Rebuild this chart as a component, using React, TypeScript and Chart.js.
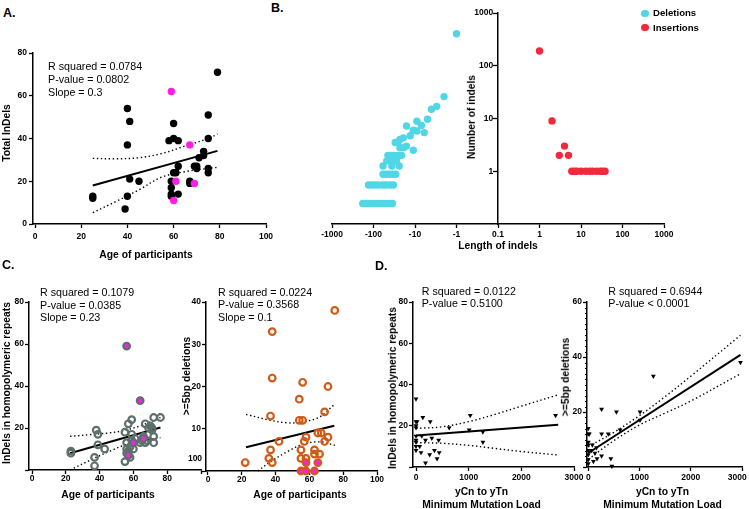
import React, { useEffect, useRef } from "react";
import { Chart, registerables } from "chart.js";
Chart.register(...registerables);

const FONT = "'Liberation Sans', Arial, Helvetica, sans-serif";
const GRAY = "#5d6f6c";
const ORANGE = "#cf5b17";
const MAG = "#ff1ee8";
const CYAN = "#4fd7e6";
const RED = "#f4283c";

// ---------- Panel A ----------
const ageA = [25, 25, 40, 41, 40, 41, 45, 40, 39, 58, 60, 62, 60, 59, 59, 60, 61, 62, 59, 59, 62, 67, 67, 69, 70, 70, 71, 73, 73, 75, 75, 75, 75, 79];
const indelA = [13, 12, 54, 48, 37, 21, 20, 13, 7, 39, 47, 39, 40, 17, 20, 24, 24, 27, 14, 13, 14, 20, 19, 27, 27, 26, 31, 34, 32, 51, 40, 26, 24, 71];
const ageAf = [59, 67, 61, 69, 60];
const indelAf = [62, 37, 20, 19, 11];
const fitAx = [25, 79];
const fitAy = [18, 34.2];
const bandAx = [25, 35, 45, 55, 65, 75, 79];
const bandAup = [30.7, 30.5, 31, 33, 36.5, 40, 42];
const bandAlo = [5.3, 10.5, 16, 22, 24.5, 26, 26.5];

// ---------- Panel B ----------
const delLen = [-1, -2, -3, -4, -5, -9, -7, -16, -11, -13, -9, -6, -19, -23, -26, -30, -16, -19, -23, -11,
  -45, -38, -33, -28, -24, -21, -48, -40, -33, -28, -59, -36, -24, -59, -50, -42, -35, -29,
  -132, -110, -90, -75, -60, -50, -40, -33, -182, -150, -125, -105, -88, -72, -60, -50, -42, -35];
const delCnt = [405, 26, 17, 15, 9.7, 8.9, 7.4, 7.2, 6, 4.7, 5.8, 5.4, 4.3, 4, 3.5, 3.5, 3, 2.8, 2.8, 2.5,
  2, 2, 2, 2, 2, 2, 1.57, 1.57, 1.57, 1.57, 1.26, 1.26, 1.26, 0.88, 0.88, 0.88, 0.88, 0.88,
  0.55, 0.55, 0.55, 0.55, 0.55, 0.55, 0.55, 0.55, 0.245, 0.245, 0.245, 0.245, 0.245, 0.245, 0.245, 0.245, 0.245, 0.245];
const insLen = [1, 2, 3, 4, 5, 6, 7, 8, 10, 13, 16, 19, 24, 29, 33, 38];
const insCnt = [190, 9, 2, 3, 2, 1, 1, 1, 1, 1, 1, 1, 1, 1, 1, 1];
const lenTickLabels = ["-1000", "-100", "-10", "-1", "0.1", "1", "10", "100", "1000"];
const lenTickPos = [-4, -3, -2, -1, 0, 1, 2, 3, 4];
const cntTicks = [1, 10, 100, 1000];
// symmetric log position of an indel length on the axis
const lenPos = (v: number) => (v < 0 ? -1 - Math.log10(-v) : 1 + Math.log10(v));

// ---------- Panel C (left) ----------
const ageC1 = [23, 23, 37, 37, 38, 39, 39, 43, 55, 55, 56, 56, 56, 57, 57, 58, 58, 59, 59, 59, 60, 61, 64, 65, 66, 67, 67, 68, 69, 70, 71, 71, 72, 72, 72, 76];
const hpC1 = [9, 8, 2, 6, 19, 17, 12, 10, 4, 18, 13, 10, 8, 22, 9, 11, 6, 24, 17, 14, 10, 15, 13, 14, 16, 22, 13, 14, 20, 21, 19, 20, 16, 13, 25, 25];
const ageC1m = [56, 64, 60, 57, 66];
const hpC1m = [59, 33, 13, 7, 15];
const fitC1x = [22.5, 76];
const fitC1y = [8, 20.2];
const bandC1x = [22.5, 35, 45, 55, 65, 76];
const bandC1up = [16, 16.9, 17.6, 18.9, 21.3, 25];
const bandC1lo = [0, 4.9, 8.6, 11.9, 13.9, 15.4];

// ---------- Panel C (right) ----------
const ageC2 = [22, 75, 38, 38, 56, 71, 54, 37, 54, 56, 69, 42, 37, 36, 38, 55, 58, 57, 65, 67, 71, 69, 63, 66, 63, 55, 58];
const delC2 = [2, 38, 33, 22, 21, 20, 17, 13, 12, 12, 14, 7, 5, 3, 2, 5, 8, 7, 9, 9, 8, 7, 5, 4, 4, 3, 3];
const ageC2m = [58, 65, 55, 58, 63];
const delC2m = [2, 2, 0, 0, 0];
const fitC2x = [22.5, 74.7];
const fitC2y = [5.6, 10.7];
const bandC2upX = [22.5, 37, 47, 56, 66, 75];
const bandC2up = [13.4, 12, 11.4, 11.6, 12.8, 15.8];
const bandC2loX = [29.5, 37, 47, 56, 66, 75];
const bandC2lo = [0, 2.2, 4.6, 6.3, 6.9, 6.1];

// ---------- Panel D (left) ----------
const loadD1 = [0, 0, 0, 0, 0, 0, 0, 0, 0, 20, 130, 110, 70, 95, 180, 260, 180, 270, 300, 350, 400, 440, 430, 630, 1030, 1010, 1270, 1270, 2650];
const hpD1 = [33, 22, 20, 19, 15, 13, 12, 10, 8, 22, 24, 15, 10, 7, 2, 6, 13, 22, 14, 8, 4, 7, 13, 19, 25, 18, 17, 12, 25];
const fitD1x = [0, 2700];
const fitD1y = [15.3, 20.5];
const bandD1x = [0, 500, 1000, 1500, 2000, 2700];
const bandD1up = [18.7, 19.5, 22, 25.5, 29.5, 35];
const bandD1lo = [11.8, 11.5, 10.5, 9, 7.5, 5.8];

// ---------- Panel D (right) ----------
const loadD2 = [0, 0, 0, 0, 0, 0, 0, 0, 20, 65, 80, 100, 130, 160, 170, 260, 260, 260, 390, 440, 460, 550, 620, 1010, 1010, 1270, 2970];
const delD2 = [14, 12, 9, 8, 6, 4.5, 2.7, 1.2, 12, 6, 8, 2, 5, 7, 3, 21, 12, 4, 12, 3, 0.3, 20, 13.5, 20, 17, 33, 38];
const fitD2x = [0, 2970];
const fitD2y = [5.1, 40.8];
const bandD2x = [0, 500, 1000, 1500, 2000, 2970];
const bandD2up = [7.4, 12.6, 18.7, 25.6, 33, 47.9];
const bandD2lo = [2.8, 9.6, 15.3, 19.6, 24, 33.9];

const ageTicks = [0, 20, 40, 60, 80, 100];
const loadTicks = [0, 1000, 2000, 3000];

// ---------- helpers ----------
const xy = (xs: number[], ys: number[]) => xs.map((x, i) => ({ x, y: ys[i] }));

function dots(xs: number[], ys: number[], style: any) {
  return { type: "scatter", data: xy(xs, ys), showLine: false, clip: false, pointHoverRadius: 0, ...style };
}
function curve(xs: number[], ys: number[], dotted = false) {
  return {
    type: "scatter",
    data: xy(xs, ys),
    showLine: true,
    pointRadius: 0,
    pointHoverRadius: 0,
    borderColor: "#000",
    borderWidth: dotted ? 1.4 : 2,
    borderDash: dotted ? [1.4, 2.6] : [],
    tension: dotted ? 0.35 : 0,
    clip: false,
    fill: false,
  };
}

const TICK_FONT = { family: FONT, size: 8.5, weight: "bold" };

type AxisSpec = { min: number; max: number; ticks: number[]; fmt?: (v: number) => string; pad?: number; type?: string };

function axis(spec: AxisSpec, horizontal: boolean, thick: number) {
  return {
    type: spec.type ?? "linear",
    min: spec.min,
    max: spec.max,
    afterBuildTicks: (s: any) => {
      s.ticks = spec.ticks.map((v) => ({ value: v }));
    },
    afterFit: (s: any) => {
      if (horizontal) {
        s.height = thick;
        s.paddingLeft = 0;
        s.paddingRight = 0;
      } else {
        s.width = thick;
        s.paddingTop = 0;
        s.paddingBottom = 0;
      }
    },
    ticks: {
      autoSkip: false,
      maxRotation: 0,
      minRotation: 0,
      padding: spec.pad ?? 2,
      color: "#000",
      font: TICK_FONT,
      callback: (v: any) => (spec.fmt ? spec.fmt(Number(v)) : String(v)),
    },
    grid: { display: true, drawOnChartArea: false, drawTicks: true, tickLength: 4, tickColor: "#000", tickWidth: 1.3 },
    border: { display: true, color: "#000", width: 1.5 },
  };
}

const minorTicks = {
  id: "minorTicks",
  afterDraw(chart: any, _args: any, opts: any) {
    if (!opts || !opts.step) return;
    const y = chart.scales.y;
    const ctx = chart.ctx;
    const x0 = chart.chartArea.left;
    ctx.save();
    ctx.strokeStyle = "#000";
    ctx.lineWidth = 1;
    for (let v = y.min; v <= y.max + 1e-9; v += opts.step) {
      const py = Math.round(y.getPixelForValue(v)) + 0.5;
      ctx.beginPath();
      ctx.moveTo(x0 - opts.len, py);
      ctx.lineTo(x0, py);
      ctx.stroke();
    }
    ctx.restore();
  },
};

type Box = { l: number; t: number; r: number; b: number };
type PanelSpec = { area: Box; pads: Box; x: AxisSpec; y: AxisSpec; datasets: any[]; yPos?: any; minor?: any };

function Panel({ spec }: { spec: PanelSpec }) {
  const ref = useRef<HTMLCanvasElement>(null);
  const { area, pads } = spec;
  const w = area.r - area.l + pads.l + pads.r;
  const h = area.b - area.t + pads.t + pads.b;
  useEffect(() => {
    const yAx: any = axis(spec.y, false, pads.l);
    if (spec.yPos) yAx.position = spec.yPos;
    const chart = new Chart(ref.current as HTMLCanvasElement, {
      type: "scatter",
      data: { datasets: spec.datasets },
      options: {
        responsive: false,
        animation: false,
        events: [],
        devicePixelRatio: 1,
        layout: { padding: { left: spec.yPos ? pads.l : 0, right: pads.r, top: pads.t, bottom: 0 } },
        plugins: { legend: { display: false }, tooltip: { enabled: false }, minorTicks: spec.minor ?? {} },
        scales: { x: axis(spec.x, true, pads.b), y: yAx },
      } as any,
      plugins: [minorTicks as any],
    } as any);
    return () => chart.destroy();
  }, []);
  return (
    <canvas
      ref={ref}
      width={w}
      height={h}
      style={{ position: "absolute", left: area.l - pads.l, top: area.t - pads.t, width: w, height: h }}
    />
  );
}

function T({ x, y, s, size = 10.3, bold = true, anchor = "middle", rot = false }: any) {
  const tf = rot ? "translate(-50%,-50%) rotate(-90deg)" : anchor === "middle" ? "translate(-50%,-50%)" : "translate(0,-50%)";
  return (
    <div
      style={{
        position: "absolute",
        left: x,
        top: y,
        transform: tf,
        fontFamily: FONT,
        fontSize: size,
        fontWeight: bold ? 700 : 400,
        whiteSpace: "nowrap",
        lineHeight: 1,
        color: "#000",
      }}
    >
      {s}
    </div>
  );
}

function Dot({ x, y, c }: any) {
  return <div style={{ position: "absolute", left: x - 3.7, top: y - 3.7, width: 7.4, height: 7.4, borderRadius: "50%", background: c }} />;
}

const STAT = 10.7;

const panelA: PanelSpec = {
  area: { l: 33, t: 53, r: 266, b: 224 },
  pads: { l: 30, t: 10, r: 14, b: 30 },
  x: { min: -0.87, max: 100, ticks: ageTicks, pad: 4 },
  y: { min: 0, max: 80, ticks: [0, 20, 40, 60, 80], pad: 2 },
  datasets: [
    dots(ageAf, indelAf, { pointRadius: 3.7, pointBackgroundColor: MAG, pointBorderWidth: 0 }),
    dots(ageA, indelA, { pointRadius: 3.7, pointBackgroundColor: "#000", pointBorderWidth: 0 }),
    curve(fitAx, fitAy),
    curve(bandAx, bandAup, true),
    curve(bandAx, bandAlo, true),
  ],
};

const panelB: PanelSpec = {
  area: { l: 332, t: 13, r: 664, b: 224 },
  pads: { l: 22, t: 8, r: 22, b: 20 },
  x: { min: -4, max: 4, ticks: lenTickPos, pad: 2, fmt: (v) => lenTickLabels[lenTickPos.indexOf(v)] ?? "" },
  // centred axis draws labels flush with the axis line; trailing spaces leave room for the tick marks
  y: { type: "logarithmic", min: 0.1, max: 1000, ticks: cntTicks, pad: 1, fmt: (v) => String(v) + "  " },
  yPos: { x: 0 },
  datasets: [
    dots(delLen.map(lenPos), delCnt, { pointRadius: 3.7, pointBackgroundColor: CYAN, pointBorderWidth: 0 }),
    dots(insLen.map(lenPos), insCnt, { pointRadius: 3.7, pointBackgroundColor: RED, pointBorderWidth: 0 }),
  ],
};

const panelC1: PanelSpec = {
  area: { l: 29, t: 302, r: 201, b: 470 },
  pads: { l: 27, t: 10, r: 14, b: 20 },
  x: { min: -1.78, max: 100, ticks: ageTicks, pad: 0, fmt: (v) => (v === 100 ? "" : String(v)) },
  y: { min: 0, max: 80, ticks: [0, 20, 40, 60, 80], pad: 1, fmt: (v) => (v === 0 ? "" : String(v)) },
  datasets: [
    dots(ageC1m, hpC1m, { pointRadius: 3.3, pointBackgroundColor: MAG, pointBorderColor: GRAY, pointBorderWidth: 2.2 }),
    dots(ageC1, hpC1, { pointRadius: 3.3, pointBackgroundColor: "rgba(0,0,0,0)", pointBorderColor: GRAY, pointBorderWidth: 2.2 }),
    curve(fitC1x, fitC1y),
    curve(bandC1x, bandC1up, true),
    curve(bandC1x, bandC1lo, true),
  ],
};

const panelC2: PanelSpec = {
  area: { l: 206, t: 302, r: 377, b: 471 },
  pads: { l: 26, t: 10, r: 14, b: 20 },
  x: { min: -1.18, max: 100, ticks: ageTicks, pad: 0 },
  y: { min: 0, max: 40, ticks: [0, 10, 20, 30, 40], pad: 1, fmt: (v) => (v === 0 ? "" : String(v)) },
  datasets: [
    dots(ageC2m, delC2m, { pointRadius: 3.3, pointBackgroundColor: MAG, pointBorderColor: ORANGE, pointBorderWidth: 2.2 }),
    dots(ageC2, delC2, { pointRadius: 3.3, pointBackgroundColor: "rgba(0,0,0,0)", pointBorderColor: ORANGE, pointBorderWidth: 2.2 }),
    curve(fitC2x, fitC2y),
    curve(bandC2upX, bandC2up, true),
    curve(bandC2loX, bandC2lo, true),
  ],
};

const panelD1: PanelSpec = {
  area: { l: 413, t: 302, r: 574, b: 467 },
  pads: { l: 24, t: 10, r: 14, b: 20 },
  x: { min: -57, max: 3000, ticks: loadTicks, pad: 2 },
  y: { min: 0, max: 80, ticks: [0, 20, 40, 60, 80], pad: 1, fmt: (v) => (v === 0 ? "" : String(v)) },
  datasets: [
    dots(loadD1, hpD1, { pointRadius: 2.8, pointStyle: "triangle", rotation: 180, pointBackgroundColor: "#000", pointBorderWidth: 0 }),
    curve(fitD1x, fitD1y),
    curve(bandD1x, bandD1up, true),
    curve(bandD1x, bandD1lo, true),
  ],
};

const panelD2: PanelSpec = {
  area: { l: 587, t: 302, r: 742, b: 467 },
  pads: { l: 24, t: 10, r: 7, b: 20 },
  // last label nudged left (trailing spaces) so it stays inside the figure edge
  x: { min: -25, max: 3000, ticks: loadTicks, pad: 2, fmt: (v) => (v === 3000 ? "3000    " : String(v)) },
  y: { min: 0, max: 60, ticks: [0, 20, 40, 60], pad: 1, fmt: (v) => (v === 0 ? "" : String(v)) },
  minor: { step: 2, len: 2 },
  datasets: [
    dots(loadD2, delD2, { pointRadius: 2.8, pointStyle: "triangle", rotation: 180, pointBackgroundColor: "#000", pointBorderWidth: 0 }),
    curve(fitD2x, fitD2y),
    curve(bandD2x, bandD2up, true),
    curve(bandD2x, bandD2lo, true),
  ],
};

export default function App() {
  return (
    <div style={{ position: "absolute", left: 0, top: 0, width: 749, height: 509, background: "#fff", overflow: "hidden" }}>
      <Panel spec={panelA} />
      <Panel spec={panelB} />
      <Panel spec={panelC1} />
      <Panel spec={panelC2} />
      <Panel spec={panelD1} />
      <Panel spec={panelD2} />

      {/* Panel A text */}
      <T x={3} y={13} s="A." size={12.5} anchor="start" />
      <T x={7} y={133} s="Total InDels" rot />
      <T x={146} y={255} s="Age of participants" />
      <T x={48} y={66} s="R squared = 0.0784" size={STAT} bold={false} anchor="start" />
      <T x={48} y={79} s="P-value = 0.0802" size={STAT} bold={false} anchor="start" />
      <T x={48} y={92} s="Slope = 0.3" size={STAT} bold={false} anchor="start" />

      {/* Panel B text */}
      <T x={271} y={8} s="B." size={12.5} anchor="start" />
      <T x={472} y={117} s="Number of indels" rot />
      <T x={498} y={246} s="Length of indels" />
      <Dot x={645} y={13.3} c={CYAN} />
      <Dot x={645} y={27.7} c={RED} />
      <T x={653} y={13.3} s="Deletions" size={9.6} anchor="start" />
      <T x={653} y={27.7} s="Insertions" size={9.6} anchor="start" />

      {/* Panel C text */}
      <T x={2} y={264.5} s="C." size={12.5} anchor="start" />
      <T x={7} y={383} s="InDels in homopolymeric repeats" rot />
      <T x={108} y={495} s="Age of participants" />
      <T x={40} y={291.7} s="R squared = 0.1079" size={STAT} bold={false} anchor="start" />
      <T x={40} y={304.7} s="P-value = 0.0385" size={STAT} bold={false} anchor="start" />
      <T x={40} y={317.3} s="Slope = 0.23" size={STAT} bold={false} anchor="start" />
      <T x={195} y={458} s="100" size={8.5} />
      <T x={187} y={376} s=">=5bp deletions" rot />
      <T x={300} y={495} s="Age of participants" />
      <T x={218} y={291.7} s="R squared = 0.0224" size={STAT} bold={false} anchor="start" />
      <T x={218} y={303.5} s="P-value = 0.3568" size={STAT} bold={false} anchor="start" />
      <T x={218} y={316.7} s="Slope = 0.1" size={STAT} bold={false} anchor="start" />

      {/* Panel D text */}
      <T x={375} y={266} s="D." size={12.5} anchor="start" />
      <T x={393} y={388} s="InDels in homopolymeric repeats" rot />
      <T x={481.5} y={492} s="yCn to yTn" />
      <T x={481.5} y={504.5} s="Minimum Mutation Load" />
      <T x={421.7} y={290.7} s="R squared = 0.0122" size={STAT} bold={false} anchor="start" />
      <T x={421.7} y={303.3} s="P-value = 0.5100" size={STAT} bold={false} anchor="start" />
      <T x={566} y={377} s=">=5bp deletions" rot />
      <T x={662.5} y={492} s="yCn to yTn" />
      <T x={662.5} y={504.5} s="Minimum Mutation Load" />
      <T x={608.3} y={290.7} s="R squared = 0.6944" size={STAT} bold={false} anchor="start" />
      <T x={608.3} y={302.7} s="P-value < 0.0001" size={STAT} bold={false} anchor="start" />
    </div>
  );
}
